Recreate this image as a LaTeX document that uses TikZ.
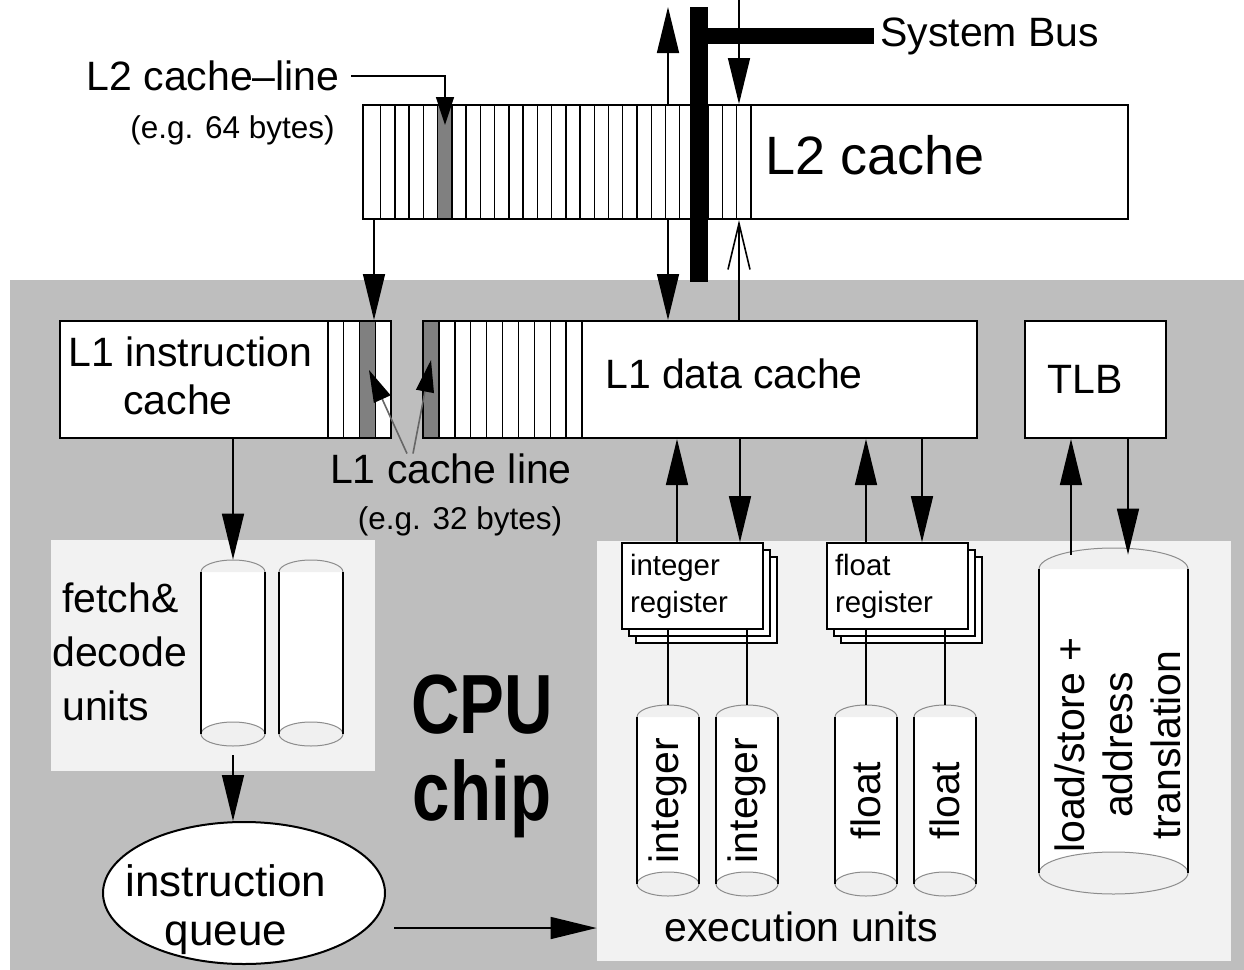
\documentclass[tikz,border=0pt]{standalone}
\usepackage{fontspec}
\setmainfont{Liberation Sans}
\newfontfamily\chipfont[FakeStretch=0.8]{Liberation Sans}
\usetikzlibrary{arrows.meta,shapes.geometric,shadows}

\definecolor{chipgray}{gray}{0.745}
\definecolor{panelgray}{gray}{0.95}
\definecolor{linegray}{gray}{0.4}
\definecolor{capgray}{gray}{0.55}
\definecolor{capfill}{gray}{0.94}

% cylinder: name, x, top y, bottom y, x radius, y radius (px)
\newcommand{\drum}[6]{%
  \fill[white] (#2-#5,-#3) rectangle (#2+#5,-#4);
  \draw[capgray,line width=0.5pt,fill=capfill] (#2-#5,-#3) arc[start angle=180,end angle=0,x radius=#5*0.5pt,y radius=#6*0.5pt];
  \draw[capgray,line width=0.5pt,fill=capfill] (#2,-#4) ellipse[x radius=#5*0.5pt,y radius=#6*0.5pt];
  \draw[line width=0.8pt] (#2-#5,-#3) -- (#2-#5,-#4) (#2+#5,-#3) -- (#2+#5,-#4);
  \node[inner sep=0pt,minimum width=#5*1pt,minimum height=#4*0.5pt-#3*0.5pt] (#1) at (#2,-#3*0.5-#4*0.5) {};
}

\begin{document}
\begin{tikzpicture}[x=0.5pt,y=0.5pt,
    lbl/.style={font=\fontsize{20.5pt}{24pt}\selectfont,inner sep=0pt},
    note/.style={font=\fontsize{15.75pt}{18pt}\selectfont,inner sep=0pt},
    cachebox/.style={draw,fill=white,line width=1pt,inner sep=0pt,minimum height=58.5pt},
    panel/.style={fill=panelgray,inner sep=0pt},
    reg/.style={draw,fill=white,line width=0.8pt,minimum width=70.5pt,minimum height=43pt,
      inner xsep=4pt,inner ysep=0pt,text width=62.5pt,align=left,
      font=\fontsize{14.7pt}{18.5pt}\selectfont,
      double copy shadow={shadow xshift=3.5pt,shadow yshift=-3.5pt,fill=white,draw=black,line width=0.8pt}},
    arr/.style={line width=0.8pt,-{Triangle[length=23pt,width=11pt]}},
    leader/.style={linegray,line width=0.5pt,-{Triangle[length=16pt,width=9pt,color=black,fill=black]}}]

    \useasboundingbox (0,0) rectangle (1244,-970);
    \fill[chipgray] (10,-280) rectangle (1244,-970);

    \node[panel,minimum width=162pt,minimum height=115.5pt] (fetch) at (213,-655.5) {};
    \node[panel,minimum width=317pt,minimum height=210pt] (exec) at (914,-751) {};

    \node[draw,fill=white,line width=1pt,inner sep=0pt,minimum width=382.5pt,minimum height=57pt] (1) at (745.5,-162) {};
    \fill[black!50] (437.7,-106) rectangle (451.9,-218);
    \foreach \k in {0,...,26}
        \draw[line width=0.7pt] (380.7+\k*14.24,-105) -- (380.7+\k*14.24,-219);
    \node[font=\fontsize{27pt}{30pt}\selectfont,inner sep=0pt] (1t) at (875,-155) {L2 cache};

    \node[lbl,anchor=west] (bus) at (880,-36) {System Bus};
    \coordinate (bustop) at (699,-7);
    \coordinate (busend) at (699,-282);
    \draw[line width=9pt] (bustop) -- (busend);
    \draw[line width=8pt] (bustop |- bus.west) -- ([xshift=-3pt]bus.west);

    \node[lbl,anchor=east] (l2line) at (340,-76) {L2 cache--line};
    \node[note,anchor=east] (l2size) at (335,-130) {(e.g. 64 bytes)};
    \coordinate (l2hit) at (445,-125);
    \draw[line width=0.8pt,-{Triangle[length=14pt,width=9pt]}] ([xshift=5.5pt]l2line.east) -| (l2hit);

    \node[cachebox,minimum width=165.5pt] (2) at (225.5,-379.5) {};
    \fill[black!50] (359.5,-322) rectangle (375.25,-437);
    \foreach \k in {0,...,3}
        \draw[line width=0.7pt] (328+\k*15.75,-321) -- (328+\k*15.75,-438);
    \node[lbl,align=left,anchor=west] (2t) at (68,-376) {L1 instruction\\\hspace*{27.5pt}cache};

    \node[cachebox,minimum width=277pt] (3) at (700,-379.5) {};
    \fill[black!50] (423.5,-322) rectangle (438.9,-437);
    \foreach \k in {1,...,10}
        \draw[line width=0.7pt] (423+\k*15.9,-321) -- (423+\k*15.9,-438);
    \node[lbl] (3t) at (734,-374) {L1 data cache};

    \node[cachebox,minimum width=70.5pt,lbl] (4) at (1095.5,-379.5) {TLB\hspace*{10pt}};

    \node[lbl] (l1line) at (451,-469) {L1 cache line};
    \node[note] (l1size) at (460,-521) {(e.g. 32 bytes)};
    \coordinate (2g) at (369,-370);
    \coordinate (3g) at (431,-360);

    \node[reg] (5) at (692.5,-586) {integer\\register};
    \node[reg] (6) at (897.5,-586) {float\\register};

    \drum{f1}{233}{572}{734}{32}{12}
    \drum{f2}{311}{572}{734}{32}{12}
    \drum{i1}{668}{717}{884}{31}{12}
    \drum{i2}{747}{717}{884}{31}{12}
    \drum{g1}{866}{717}{884}{31}{12}
    \drum{g2}{945}{717}{884}{31}{12}
    \drum{ls}{1113.5}{569}{873}{74.5}{21}

    \node[lbl,rotate=90] (i1t) at (i1) {integer};
    \node[lbl,rotate=90] (i2t) at (i2) {integer};
    \node[lbl,rotate=90] (g1t) at (g1) {float};
    \node[lbl,rotate=90] (g2t) at (g2) {float};
    \node[lbl,rotate=90,align=center] (lst) at ([xshift=2.25pt,yshift=-12pt]ls) {load/store +\\address\\translation};

    \node[lbl,align=left,anchor=west,font=\fontsize{20.5pt}{27pt}\selectfont] (fd) at (52,-652) {\hspace*{5pt}fetch\&\\decode\\\hspace*{5pt}units};
    \node[draw,fill=white,ellipse,line width=1pt,minimum width=141pt,minimum height=71pt,inner sep=0pt] (iq) at (244,-893) {};
    \node[align=center,inner sep=0pt,font=\fontsize{22pt}{24.5pt}\selectfont] (iqt) at (226,-910) {instruction\\queue};
    \node[font=\chipfont\bfseries\fontsize{42pt}{43.5pt}\selectfont,align=center,inner sep=0pt] (cpu) at (482,-756) {CPU\\chip};
    \node[lbl] (eu) at (801,-927) {execution units};

    \coordinate (topup) at (668,-7);
    \coordinate (topdn) at (739,0);
    \coordinate (iqout) at ([xshift=4pt,yshift=-17.5pt]iq.east);

    \begin{scope}[every edge/.style={draw,line width=0.8pt}]
        \path [arr] (1.north -| topup) edge (topup);
        \path [arr] (topdn) edge (topdn |- 1.north);
        \path [arr] ([xshift=74.25pt]2.north |- 1.south) edge ([xshift=74.25pt]2.north);
        \path [arr] ([xshift=-16pt]3.north |- 1.south) edge ([xshift=-16pt]3.north);
        \path [-{Straight Barb[length=23pt,width=11pt]}] ([xshift=19.5pt]3.north) edge ([xshift=19.5pt]3.north |- 1.south);

        \path [leader] ([xshift=-22pt]l1line.north) edge (2g);
        \path [leader] ([xshift=-19pt]l1line.north) edge (3g);

        \path [arr] ([xshift=-7.75pt]5.north) edge ([xshift=-7.75pt]5.north |- 3.south);
        \path [arr] ([xshift=23.75pt]5.north |- 3.south) edge ([xshift=23.75pt]5.north);
        \path [arr] ([xshift=-15.75pt]6.north) edge ([xshift=-15.75pt]6.north |- 3.south);
        \path [arr] ([xshift=12.25pt]6.north |- 3.south) edge ([xshift=12.25pt]6.north);

        \path [arr] ([xshift=-21.25pt,yshift=7pt]ls.north) edge ([xshift=-21.25pt]ls.north |- 4.south);
        \path [arr] ([xshift=7.25pt]ls.north |- 4.south) edge ([xshift=7.25pt,yshift=7pt]ls.north);

        \path [-] (i1 |- 5.south) edge ([yshift=6pt]i1.north);
        \path [-] (i2 |- 5.south) edge ([yshift=6pt]i2.north);
        \path [-] (g1 |- 6.south) edge ([yshift=6pt]g1.north);
        \path [-] (g2 |- 6.south) edge ([yshift=6pt]g2.north);

        \path [arr] (f1 |- 2.south) edge ([yshift=6pt]f1.north);
        \path [arr] ([yshift=-10.5pt]f1.south) edge (f1 |- iq.north);
        \path [arr] (iqout) edge (iqout -| exec.west);
    \end{scope}
\end{tikzpicture}
\end{document}
